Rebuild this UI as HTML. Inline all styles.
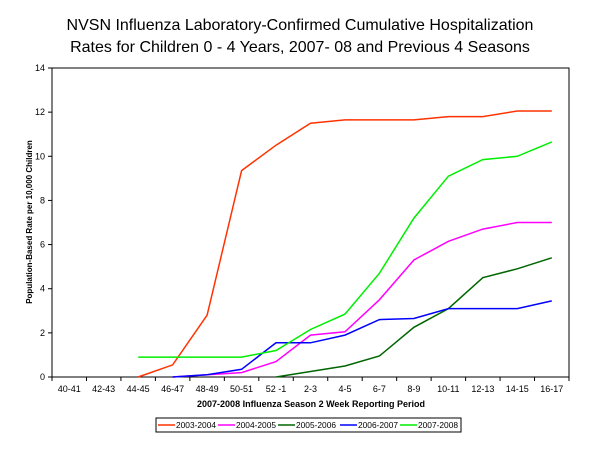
<!DOCTYPE html><html><head><style>body{margin:0;background:#fff}svg{display:block;font-family:"Liberation Sans",Arial,sans-serif}</style></head><body>
<svg id="s" width="600" height="450" xmlns="http://www.w3.org/2000/svg">
<rect width="600" height="450" fill="#fff"/>
<text x="300" y="30" font-size="16" text-anchor="middle">NVSN Influenza Laboratory-Confirmed Cumulative Hospitalization</text>
<text x="300" y="52" font-size="16" text-anchor="middle">Rates for Children 0 - 4 Years, 2007- 08 and Previous 4 Seasons</text>
<rect x="52" y="68" width="517" height="309" fill="none" stroke="#000" stroke-width="1"/>
<g id="g"></g>
<text x="311" y="407" font-size="9" font-weight="bold" text-anchor="middle">2007-2008 Influenza Season 2 Week Reporting Period</text>
<text transform="translate(32,222) rotate(-90)" font-size="8" font-weight="bold" text-anchor="middle">Population-Based Rate per 10,000 Children</text>
<rect x="156" y="418" width="305" height="14" fill="#fff" stroke="#000"/>
</svg>
<script>
var g=document.getElementById('g'),s=document.getElementById('s'),h='';
var L=52,W=517/15,B=377,K=309/14;
function X(i){return L+W*(i+0.5)}function Y(v){return B-v*K}
for(var v=0;v<=14;v+=2){h+='<line x1="48" x2="52" y1="'+Y(v)+'" y2="'+Y(v)+'" stroke="#000"/><text x="45" y="'+(Y(v)+3)+'" font-size="9" text-anchor="end">'+v+'</text>';}
var cats=["40-41","42-43","44-45","46-47","48-49","50-51","52 -1","2-3","4-5","6-7","8-9","10-11","12-13","14-15","16-17"];
for(var i=0;i<=15;i++){var x=L+W*i;h+='<line x1="'+x+'" x2="'+x+'" y1="377" y2="381" stroke="#000"/>';}
cats.forEach(function(c,i){h+='<text x="'+X(i)+'" y="392" font-size="9" text-anchor="middle">'+c+'</text>';});
var S=[["#ff3300",2,[0,0.55,2.8,9.35,10.5,11.5,11.65,11.65,11.65,11.8,11.8,12.05,12.05]],
["#ff00ff",3,[0,0.1,0.2,0.7,1.9,2.05,3.5,5.3,6.15,6.7,7.0,7.0]],
["#006600",6,[0,0.25,0.5,0.95,2.25,3.1,4.5,4.9,5.4]],
["#0000ff",3,[0,0.1,0.35,1.55,1.55,1.9,2.6,2.65,3.1,3.1,3.1,3.45]],
["#00ee00",2,[0.9,0.9,0.9,0.9,1.2,2.15,2.85,4.7,7.2,9.1,9.85,10.0,10.65]]];
S.forEach(function(sr){var p=sr[2].map(function(v,j){return X(sr[1]+j).toFixed(1)+','+Y(v).toFixed(1)}).join(' ');h+='<polyline points="'+p+'" fill="none" stroke="'+sr[0]+'" stroke-width="1.5"/>';});
g.innerHTML=h;
var names=["2003-2004","2004-2005","2005-2006","2006-2007","2007-2008"],xs=[158,218,278,340,400],lh='';
names.forEach(function(n,i){lh+='<line x1="'+xs[i]+'" x2="'+(xs[i]+17)+'" y1="425" y2="425" stroke="'+S[i][0]+'" stroke-width="1.5"/><text x="'+(xs[i]+18)+'" y="428" font-size="8.5" textLength="40" lengthAdjust="spacingAndGlyphs">'+n+'</text>';});
s.insertAdjacentHTML('beforeend',lh);
</script>
</body></html>
